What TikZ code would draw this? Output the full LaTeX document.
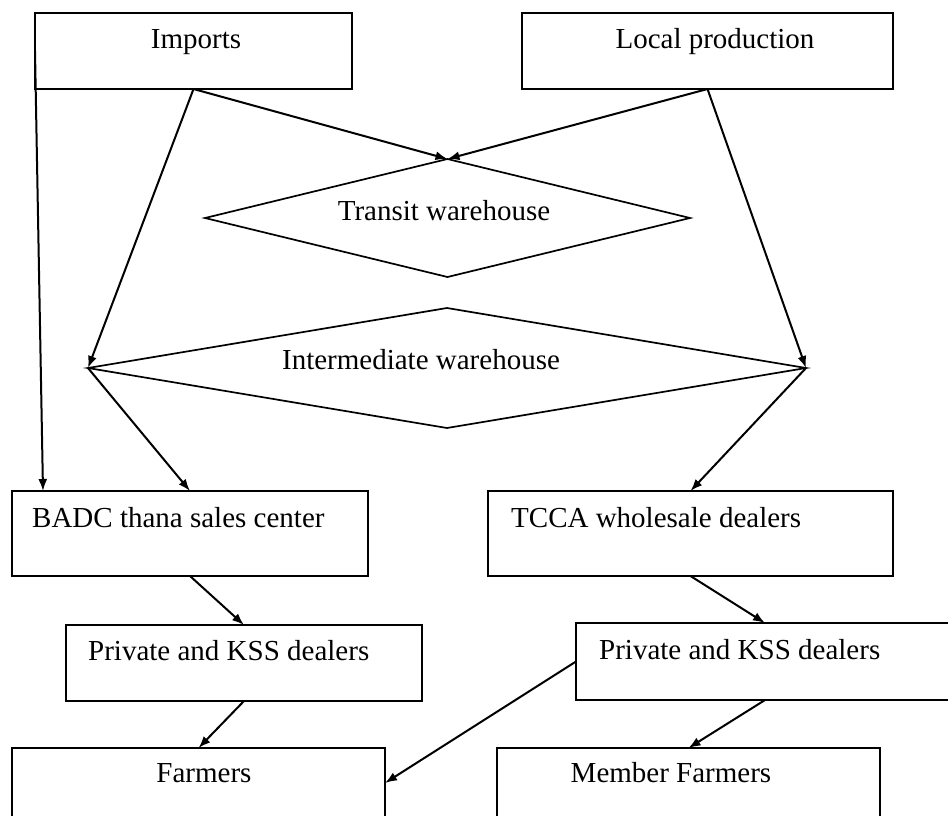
\documentclass[tikz,border=0pt]{standalone}
\usepackage{fontspec}
\setmainfont{Liberation Serif}
\usetikzlibrary{shapes.geometric,arrows.meta}
\tikzset{
  box/.style={draw, line width=2pt, rectangle, inner sep=0pt, outer sep=0pt},
  dia/.style={draw, line width=1.7pt, diamond, inner sep=0pt, outer sep=0pt},
  lbl/.style={inner sep=0pt, font=\fontsize{29}{34}\selectfont},
  conn/.style={line width=2pt, -{Latex[length=12pt,width=9pt]}},
}
\begin{document}
\begin{tikzpicture}[x=1pt,y=-1pt]
\useasboundingbox (0,0) rectangle (948,815);
% boxes
\node[box, minimum width=317pt, minimum height=76pt] (imp) at (193.5,51) {};
\node[box, minimum width=371pt, minimum height=76pt] (loc) at (707.5,51) {};
\node[dia, minimum width=485pt, minimum height=118pt] (tra) at (447.5,218) {};
\node[dia, minimum width=718pt, minimum height=120pt] (int) at (447,368) {};
\node[box, minimum width=356pt, minimum height=85pt] (badc) at (190,533.5) {};
\node[box, minimum width=405pt, minimum height=85pt] (tcca) at (690.5,533.5) {};
\node[box, minimum width=356pt, minimum height=76pt] (pl) at (244,663) {};
\node[box, minimum width=378pt, minimum height=77pt] (pr) at (765,661.5) {};
\node[box, minimum width=373pt, minimum height=70pt] (farm) at (198.5,783) {};
\node[box, minimum width=383pt, minimum height=70pt] (mem) at (688.5,783) {};
% labels
\node[lbl, anchor=base] (timp) at (196,48) {Imports};
\node[lbl, anchor=base] (tloc) at (715,48) {Local production};
\node[lbl, anchor=base] (ttra) at (444,220) {Transit warehouse};
\node[lbl, anchor=base] (tint) at (421,369) {Intermediate warehouse};
\node[lbl, anchor=base west] (tbadc) at (32,527) {BADC thana sales center};
\node[lbl, anchor=base west] (ttcca) at (511,527) {TCCA wholesale dealers};
\node[lbl, anchor=base west] (tpl) at (88,660) {Private and KSS dealers};
\node[lbl, anchor=base west] (tpr) at (599,659) {Private and KSS dealers};
\node[lbl, anchor=base] (tfarm) at (204,782) {Farmers};
\node[lbl, anchor=base] (tmem) at (671,782) {Member Farmers};
% connectors
\coordinate (badcin) at (43,491);
\draw[conn] (imp.west) -- (badcin);
\draw[conn] (imp.south) -- (tra.north);
\draw[conn] (loc.south) -- (tra.north);
\draw[conn] (imp.south) -- (int.west);
\draw[conn] (loc.south) -- (int.east);
\draw[conn] (int.west) -- (badc.north);
\draw[conn] (int.east) -- (tcca.north);
\draw[conn] (badc.south) -- (pl.north);
\draw[conn] (tcca.south) -- (pr.north);
\draw[conn] (pl.south) -- (farm.north);
\draw[conn] (pr.west) -- (farm.east);
\draw[conn] (pr.south) -- (mem.north);
\end{tikzpicture}
\end{document}
